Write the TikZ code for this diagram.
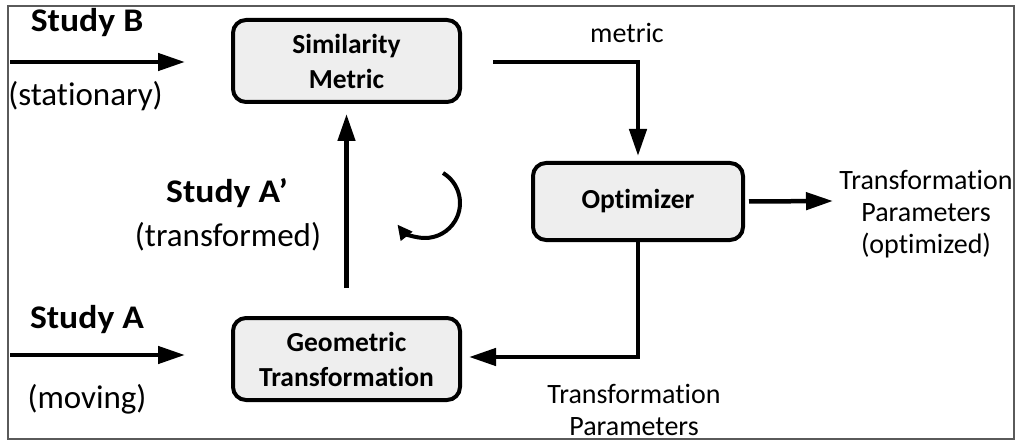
\documentclass[tikz,border=0pt]{standalone}
\usepackage{fontspec}
\setmainfont{Carlito}[Ligatures=NoCommon]
\usetikzlibrary{arrows.meta}
\definecolor{boxgray}{HTML}{EEEEEE}
\definecolor{framegray}{HTML}{5A5A5A}
\begin{document}
\begin{tikzpicture}[x=1pt,y=-1pt,
  box/.style={draw=black, line width=4pt, rounded corners=13pt, fill=boxgray,
    minimum width=227pt, minimum height=82pt, align=center, inner sep=0pt,
    font=\fontsize{27.5}{35}\selectfont\bfseries},
  arr/.style={line width=4.5pt, -{Triangle[length=27pt,width=17pt]}},
  loopArrow/.style={line width=4pt, -{Triangle[length=15pt,width=14pt]}},
  big/.style={font=\fontsize{33}{38}\selectfont\bfseries, anchor=base, inner sep=0pt, xscale=1.08},
  paren/.style={font=\fontsize{33}{38}\selectfont, anchor=base, inner sep=0pt},
  lab/.style={font=\fontsize{28}{32}\selectfont, align=center, inner sep=0pt}
]
\useasboundingbox (0,0) rectangle (1018,441);
\fill[white] (0,0) rectangle (1018,441);

% boxes
\node[box] (sim) at (346.5,61) {Similarity\\Metric};
\node[box] (geo) at (346.5,359) {Geometric\\Transformation};
\node[box, minimum width=210pt, minimum height=77pt] (opt) at (638,201.5) {Optimizer};

% texts
\node[big] (studyB) at (87,32) {Study B};
\node[paren] (stat) at (85.5,106) {(stationary)};
\node[big] (studyAp) at (227,203) {Study A’};
\node[paren] (trans) at (228,246) {(transformed)};
\node[big] (studyA) at (87,328) {Study A};
\node[paren] (mov) at (87,408) {(moving)};
\node[lab, anchor=base] (metric) at (627,43) {metric};
\node[lab] (outlab) at (926,214) {Transformation\\Parameters\\(optimized)};
\node[lab] (tplab) at (634,410) {Transformation\\Parameters};

% free ends
\coordinate (bIn) at (10,62);
\coordinate (bEnd) at (185,62);
\coordinate (aIn) at (10,355);
\coordinate (aEnd) at (185,355);
\coordinate (outEnd) at (833,201);
\coordinate (loopc) at (425,203);

% connectors
\draw[arr] (bIn) -- (bEnd);
\draw[arr] (aIn) -- (aEnd);
\draw[arr] ([yshift=28pt]geo.north) -- ([yshift=-10pt]sim.south);
\draw[arr] ([xshift=31pt,yshift=-1pt]sim.east) -| ([yshift=5pt]opt.north);
\draw[arr] ([xshift=4pt]opt.east) -- (outEnd);
\draw[arr] (opt.south) |- ([xshift=7pt,yshift=2pt]geo.east);
\draw[loopArrow] (loopc) ++(-59:35) arc[start angle=-59, end angle=142, radius=35];

% frame
\draw[line width=1.8pt, framegray] (8,6) rectangle (1014,439);
\end{tikzpicture}
\end{document}
